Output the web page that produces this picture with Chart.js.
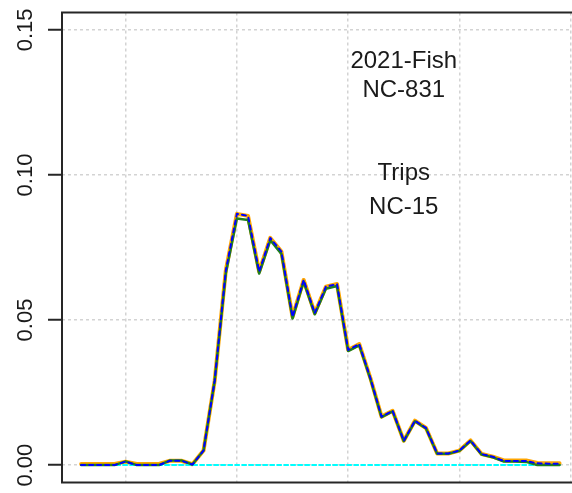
<!DOCTYPE html>
<html>
<head>
<meta charset="utf-8">
<script src="https://cdn.jsdelivr.net/npm/chart.js@4.4.1/dist/chart.umd.min.js"></script>
<style>
  html, body { margin: 0; padding: 0; background: #ffffff; overflow: hidden; }
  canvas { display: block; }
</style>
</head>
<body>
<canvas id="chart" width="572" height="493"></canvas>
<script>
// Weekly positions along the horizontal axis
const weeks = [6, 7, 8, 9, 10, 11, 12, 13, 14, 15, 16, 17, 18, 19, 20, 21, 22, 23, 24, 25, 26, 27,
               28, 29, 30, 31, 32, 33, 34, 35, 36, 37, 38, 39, 40, 41, 42, 43, 44, 45, 46, 47, 48, 49];

// Share per week, fish (blue dashed)
const fishShare = [0, 0, 0, 0, 0.0012, 0, 0, 0, 0.0015, 0.0015, 0.0002, 0.005, 0.029, 0.067,
                   0.0866, 0.0859, 0.0667, 0.0783, 0.0736, 0.0511, 0.0638, 0.0524, 0.0615, 0.0624,
                   0.0397, 0.0417, 0.030, 0.0167, 0.0187, 0.0084, 0.0153, 0.0128, 0.004, 0.004,
                   0.005, 0.0085, 0.0038, 0.0029, 0.0014, 0.0014, 0.0014, 0.0006, 0.0005, 0.0005];

// Share per week, fish NC estimate (green)
const fishShareNC = [0, 0, 0, 0, 0.0013, 0, 0, 0, 0.0016, 0.0016, 0.0002, 0.005, 0.029, 0.066,
                     0.0850, 0.0845, 0.0660, 0.0775, 0.0728, 0.0505, 0.0632, 0.0520, 0.0608, 0.0617,
                     0.0393, 0.0413, 0.0296, 0.0165, 0.0185, 0.0083, 0.0151, 0.0126, 0.0039, 0.0039,
                     0.0049, 0.0083, 0.0036, 0.0027, 0.0012, 0.0012, 0.0011, 0, 0, 0];

// Share per week, trips (orange)
const tripShare = [0.0004, 0.0004, 0.0004, 0.0004, 0.0012, 0.0004, 0.0004, 0.0004, 0.0015, 0.0015,
                   0.0003, 0.005, 0.029, 0.067, 0.0866, 0.0859, 0.0667, 0.0783, 0.0736, 0.0511,
                   0.0638, 0.0524, 0.0615, 0.0624, 0.0397, 0.0417, 0.030, 0.0167, 0.0187, 0.0084,
                   0.0153, 0.0128, 0.004, 0.004, 0.005, 0.0085, 0.0038, 0.0029, 0.0016, 0.0016,
                   0.0016, 0.0007, 0.0006, 0.0006];

// Zero reference line (cyan)
const zeroLine = [0, 0, 0, 0, 0, 0, 0, 0, 0, 0, 0, 0, 0, 0, 0, 0, 0, 0, 0, 0, 0, 0,
                  0, 0, 0, 0, 0, 0, 0, 0, 0, 0, 0, 0, 0, 0, 0, 0, 0, 0, 0, 0, 0, 0];

const yTicks = [0, 0.05, 0.10, 0.15];
const yTickLabels = ["0.00", "0.05", "0.10", "0.15"];
const xTicks = [10, 20, 30, 40, 50];

// Text block inside the plot, anchored in data units
const notes = [
  { text: "2021-Fish", x: 35, y: 0.139 },
  { text: "NC-831",    x: 35, y: 0.129 },
  { text: "Trips",     x: 35, y: 0.1005 },
  { text: "NC-15",     x: 35, y: 0.089 }
];

const FONT = 'Arial, "Liberation Sans", "DejaVu Sans", sans-serif';

function toPoints(values) {
  return weeks.map((w, i) => ({ x: w, y: values[i] }));
}

const frameAndText = {
  id: 'frameAndText',
  afterDraw(chart) {
    const ctx = chart.ctx;
    const area = chart.chartArea;
    const xs = chart.scales.x;
    const ys = chart.scales.y;
    ctx.save();

    // plot frame
    ctx.strokeStyle = '#262626';
    ctx.lineWidth = 2;
    ctx.setLineDash([]);
    ctx.strokeRect(area.left, area.top, area.right - area.left + 8, area.bottom - area.top);

    // rotated y tick labels
    ctx.fillStyle = '#1a1a1a';
    ctx.font = '22px ' + FONT;
    ctx.textAlign = 'center';
    ctx.textBaseline = 'alphabetic';
    yTicks.forEach((v, i) => {
      const py = ys.getPixelForValue(v);
      ctx.save();
      ctx.translate(area.left - 30, py);
      ctx.rotate(-Math.PI / 2);
      ctx.fillText(yTickLabels[i], 0, 0);
      ctx.restore();
    });

    // text block
    ctx.font = '24px ' + FONT;
    ctx.textBaseline = 'middle';
    notes.forEach(n => {
      ctx.fillText(n.text, xs.getPixelForValue(n.x), ys.getPixelForValue(n.y));
    });
    ctx.restore();
  }
};

new Chart(document.getElementById('chart'), {
  type: 'line',
  data: {
    datasets: [
      { data: toPoints(fishShare), borderColor: '#0000ff', borderWidth: 2, borderDash: [4, 4] },
      { data: toPoints(fishShareNC), borderColor: '#1f7f1f', borderWidth: 2.5 },
      { data: toPoints(zeroLine), borderColor: '#00ffff', borderWidth: 2, borderDash: [4, 3] },
      { data: toPoints(tripShare), borderColor: '#ffa500', borderWidth: 4 }
    ]
  },
  options: {
    responsive: false,
    animation: false,
    devicePixelRatio: 1,
    layout: { padding: { left: 48, top: 12.5, right: 0, bottom: 10.5 } },
    elements: {
      point: { radius: 0 },
      line: { tension: 0, fill: false, borderCapStyle: 'round', borderJoinStyle: 'round' }
    },
    plugins: { legend: { display: false }, tooltip: { enabled: false } },
    scales: {
      x: {
        type: 'linear',
        min: 4.28,
        max: 50.12,
        afterBuildTicks: s => { s.ticks = xTicks.map(v => ({ value: v })); },
        ticks: { display: false },
        grid: { color: '#d3d3d3', lineWidth: 1.5, drawTicks: false },
        border: { display: false, dash: [3, 3] }
      },
      y: {
        type: 'linear',
        min: -0.006,
        max: 0.156,
        afterBuildTicks: s => { s.ticks = yTicks.map(v => ({ value: v })); },
        ticks: { display: false },
        grid: {
          color: '#d3d3d3', lineWidth: 1.5, drawTicks: true, tickLength: 14,
          tickColor: '#262626', tickWidth: 2, tickBorderDash: []
        },
        border: { display: false, dash: [3, 3] }
      }
    }
  },
  plugins: [frameAndText]
});
</script>
</body>
</html>
